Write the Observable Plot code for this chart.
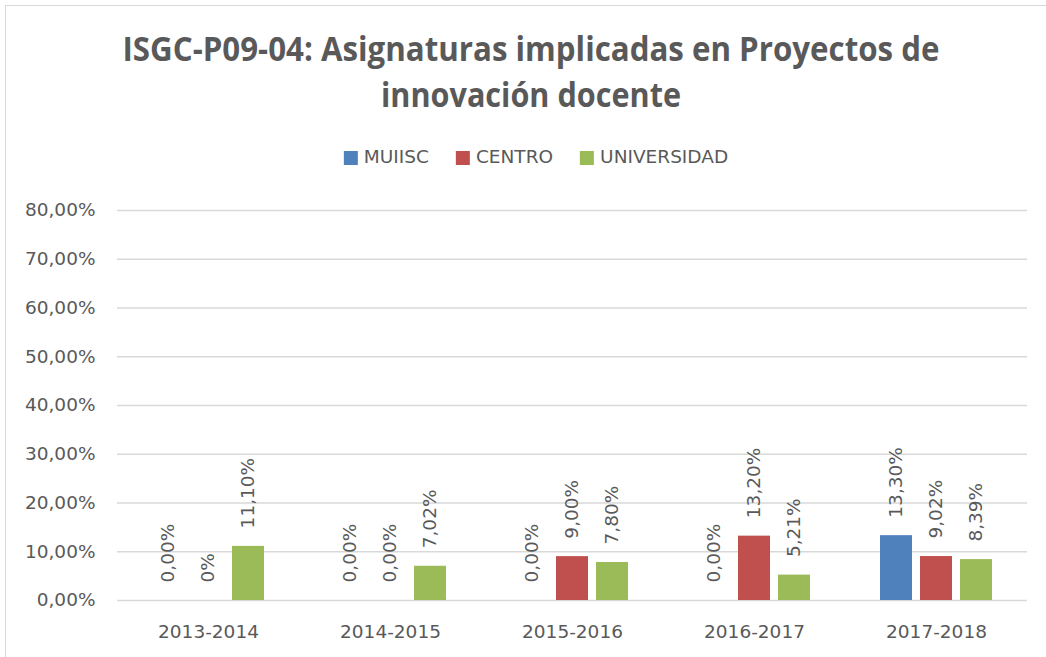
<!DOCTYPE html>
<html>
<head>
<meta charset="utf-8">
<script src="https://cdn.jsdelivr.net/npm/d3@7"></script>
<script src="https://cdn.jsdelivr.net/npm/@observablehq/plot@0.6"></script>
<style>
  html, body { margin: 0; padding: 0; background: #fff; overflow: hidden; }
  #wrap { position: relative; width: 1046px; height: 657px; overflow: hidden; background: #fff; }
  #frame { position: absolute; left: 5px; top: 5px; width: 1200px; height: 800px;
           border-left: 1.5px solid #d9d9d9; border-top: 1.5px solid #d9d9d9; }
  .tline { position: absolute; left: 531px; white-space: nowrap;
           font-family: "Open Sans", sans-serif; font-weight: 700; font-size: 34px;
           color: #595959; line-height: normal; transform-origin: 0 0; }
  #legend { position: absolute; top: 146px; left: 536px; transform: translateX(-50%);
            display: flex; gap: 27px; white-space: nowrap;
            font-family: "DejaVu Sans", sans-serif; font-size: 18.5px; color: #595959; line-height: 1.164; }
  .li { display: flex; align-items: center; }
  .sw { width: 14px; height: 14px; margin-right: 6px; margin-top: 2px; }
  #chart { position: absolute; left: 0; top: 190px; }
</style>
</head>
<body>
<div id="wrap">
  <div id="frame"></div>
  <div id="t1" class="tline" style="top:25px">ISGC-P09-04: Asignaturas implicadas en Proyectos de</div>
  <div id="t2" class="tline" style="top:71px">innovación docente</div>
  <div id="legend"></div>
  <div id="chart"></div>
</div>
<script>
// ---- data ----
const years = ["2013-2014", "2014-2015", "2015-2016", "2016-2017", "2017-2018"];
const series = ["MUIISC", "CENTRO", "UNIVERSIDAD"];
const colors = ["#4F81BD", "#C0504D", "#9BBB59"];
const muiisc = [0, 0, 0, 0, 13.30];
const centro = [0, 0, 9.00, 13.20, 9.02];
const universidad = [11.10, 7.02, 7.80, 5.21, 8.39];
const muiiscLabels = ["0,00%", "0,00%", "0,00%", "0,00%", "13,30%"];
const centroLabels = ["0%", "0,00%", "9,00%", "13,20%", "9,02%"];
const universidadLabels = ["11,10%", "7,02%", "7,80%", "5,21%", "8,39%"];
const yTicks = [0, 10, 20, 30, 40, 50, 60, 70, 80];

const values = [muiisc, centro, universidad];
const labels = [muiiscLabels, centroLabels, universidadLabels];
const data = [];
years.forEach((yr, i) => {
  series.forEach((s, j) => {
    data.push({year: yr, series: s, value: values[j][i], label: labels[j][i]});
  });
});

// ---- title scaling (fit measured widths) ----
function fit(id, targetW) {
  const el = document.getElementById(id);
  const w = el.getBoundingClientRect().width;
  const s = targetW / w;
  el.style.transform = `scaleX(${s}) translateX(-50%)`;
}
fit("t1", 817);
fit("t2", 300);

// ---- legend ----
const leg = document.getElementById("legend");
series.forEach((s, j) => {
  const li = document.createElement("div");
  li.className = "li";
  const sw = document.createElement("div");
  sw.className = "sw";
  sw.style.background = colors[j];
  const tx = document.createElement("span");
  tx.textContent = s;
  li.appendChild(sw);
  li.appendChild(tx);
  leg.appendChild(li);
});

// ---- chart ----
const fmt = d => d.toFixed(2).replace(".", ",") + "%";
const chart = Plot.plot({
  width: 1046,
  height: 467,
  marginLeft: 117,
  marginRight: 19,
  marginTop: 20,
  marginBottom: 57,
  style: {fontFamily: "DejaVu Sans, sans-serif", fontSize: "18.5px", color: "#595959", background: "transparent"},
  fx: {domain: years, padding: 0, label: null},
  x: {domain: series, paddingInner: 0.2, paddingOuter: 0.875, axis: null},
  y: {domain: [0, 80], label: null},
  color: {domain: series, range: colors},
  marks: [
    Plot.ruleY(yTicks, {stroke: "#d9d9d9", strokeWidth: 1.5}),
    Plot.axisY({ticks: yTicks, tickFormat: fmt, tickSize: 0, tickPadding: 22, label: null, fill: "#595959", fontSize: 18.5}),
    Plot.axisFx({anchor: "bottom", tickSize: 0, tickPadding: 24, label: null, fill: "#595959", fontSize: 18.5}),
    Plot.barY(data, {fx: "year", x: "series", y: "value", fill: "series"}),
    Plot.text(data, {fx: "year", x: "series", y: "value", text: "label", rotate: -90,
      textAnchor: "start", dy: -18, fill: "#595959", fontSize: 18.5})
  ]
});
document.getElementById("chart").appendChild(chart);
</script>
</body>
</html>
